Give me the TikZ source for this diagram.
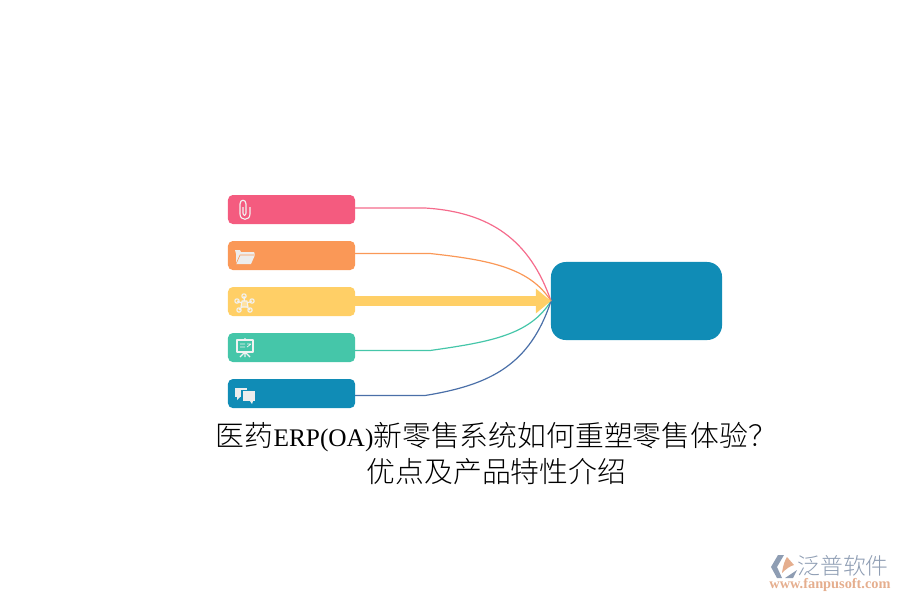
\documentclass[tikz,border=0pt]{standalone}
\usepackage{fontspec}
\newfontfamily\cjk{Noto Sans CJK SC}[UprightFont=* Light]
\newfontfamily\latinfont{Liberation Serif}
\usetikzlibrary{arrows.meta,positioning}
\definecolor{pinkc}{HTML}{F45B7F}
\definecolor{orangec}{HTML}{FA9857}
\definecolor{yellowc}{HTML}{FFCF66}
\definecolor{greenc}{HTML}{45C6A9}
\definecolor{bluec}{HTML}{108CB6}
\definecolor{navyc}{HTML}{4A6FA8}
\definecolor{logoc}{HTML}{8E9DB3}
\definecolor{logoo}{HTML}{E5AE8E}
\tikzset{
  tabbox/.style={minimum width=3.175cm,minimum height=0.725cm,rounded corners=0.12cm,inner sep=0pt,outer sep=0pt},
  link/.style={line width=0.85pt},
  icon/.style={draw=white!95!black,line width=0.8pt,line join=round},
  title/.style={font=\cjk\fontsize{20.5}{20}\selectfont,inner sep=0pt},
}
\begin{document}
\begin{tikzpicture}[x=0.025cm,y=-0.025cm]
  \useasboundingbox (0,0) rectangle (900,600);
  \node[tabbox,fill=pinkc] (clip) at (291.5,209.5) {};
  \node[tabbox,fill=orangec,below=0.425cm of clip] (folder) {};
  \node[tabbox,fill=yellowc,below=0.425cm of folder] (net) {};
  \node[tabbox,fill=greenc,below=0.425cm of net] (board) {};
  \node[tabbox,fill=bluec,below=0.425cm of board] (chat) {};
  \node[minimum width=4.275cm,minimum height=1.95cm,rounded corners=0.37cm,fill=bluec,inner sep=0pt,outer sep=0pt] (hub) at (636.5,301) {};
  \coordinate (clipout) at (355,208);
  \coordinate (folderout) at (355,253.5);
  \coordinate (netout) at (355,301);
  \coordinate (boardout) at (355,350.5);
  \coordinate (chatout) at (355,395.5);
  \draw[link,pinkc!90] (clipout) -- (425,208) .. controls (490,212) and (530,240) .. (hub.west);
  \draw[link,orangec] (folderout) -- (430,253.5) .. controls (490,260) and (530,268) .. (hub.west);
  \draw[link,greenc] (boardout) -- (430,350.5) .. controls (490,342) and (530,335) .. (hub.west);
  \draw[link,navyc] (chatout) -- (425,395.5) .. controls (490,385) and (530,365) .. (hub.west);
  \draw[yellowc,line width=0.27cm,-{Triangle[length=0.38cm,width=0.6cm]}] (netout) -- (hub.west);
  % icons
  \draw[icon] (250,207) -- (250,214) .. controls (250,221) and (240,221) .. (240,214) -- (240,204) .. controls (240,199) and (246,199) .. (246,204) -- (246,213) .. controls (246,216) and (243,216) .. (243,213) -- (243,207);
  \fill[white!93!black] (236,254) -- (235,250) -- (240,250) -- (241,252) -- (254,252) -- (255,255) -- (251,264) -- (236,264) -- cycle;
  \draw[orangec,line width=0.4pt] (236,264) -- (240,255) -- (255,255);
  \foreach \p/\q in {244/296,237/301,252/301,239/310,250/310}
    \draw[icon] (244.5,304) -- (\p,\q) (\p,\q) circle (2.2);
  \draw[icon,fill=yellowc!60!white] (242,301) -- (247,301) -- (248,307) -- (241,307) -- cycle;
  \draw[icon,line width=1pt] (237,340) rectangle (253,352);
  \draw[icon] (245,352) -- (245,357) (245,352) -- (240,357) (245,352) -- (250,357) (245,338) -- (245,340);
  \draw[icon,line width=0.5pt] (240,344) -- (245,344) (240,347) -- (245,347) (247,344) -- (251,344) (247,347) -- (251,344);
  \fill[white!93!black] (235,388) rectangle (247,397);
  \fill[white!93!black] (237,397) -- (240,397) -- (237,400) -- cycle;
  \fill[bluec] (241,390) rectangle (256,402);
  \fill[white!93!black] (243,391) rectangle (255,401);
  \fill[white!93!black] (250,401) -- (253,401) -- (252,404) -- cycle;
  % title
  \node[title] (caption) at (496.5,437) {医药{\latinfont\fontsize{18}{18}\selectfont ERP(OA)}新零售系统如何重塑零售体验？};
  \node[title] (captionb) at (496.5,472) {优点及产品特性介绍};
  % watermark
  \fill[logoc] (778,555) -- (771,567) -- (777,578) -- (782,578) -- (777,567) -- (784,555) -- cycle;
  \fill[logoc] (785,578) -- (797,570) -- (793,578) -- cycle;
  \fill[logoo] (782,573) .. controls (783,565) and (785,560) .. (787,557) -- (794,565) .. controls (790,566) and (786,569) .. (782,573) -- cycle;
  \node[font=\cjk\fontsize{16.2}{16}\selectfont,text=logoc,inner sep=0pt] (brand) at (843,566) {泛普软件};
  \node[font=\latinfont\bfseries\fontsize{10.2}{10}\selectfont,text=logoo,inner sep=0pt] (site) at (830,585) {www.fanpusoft.com};
\end{tikzpicture}
\end{document}
